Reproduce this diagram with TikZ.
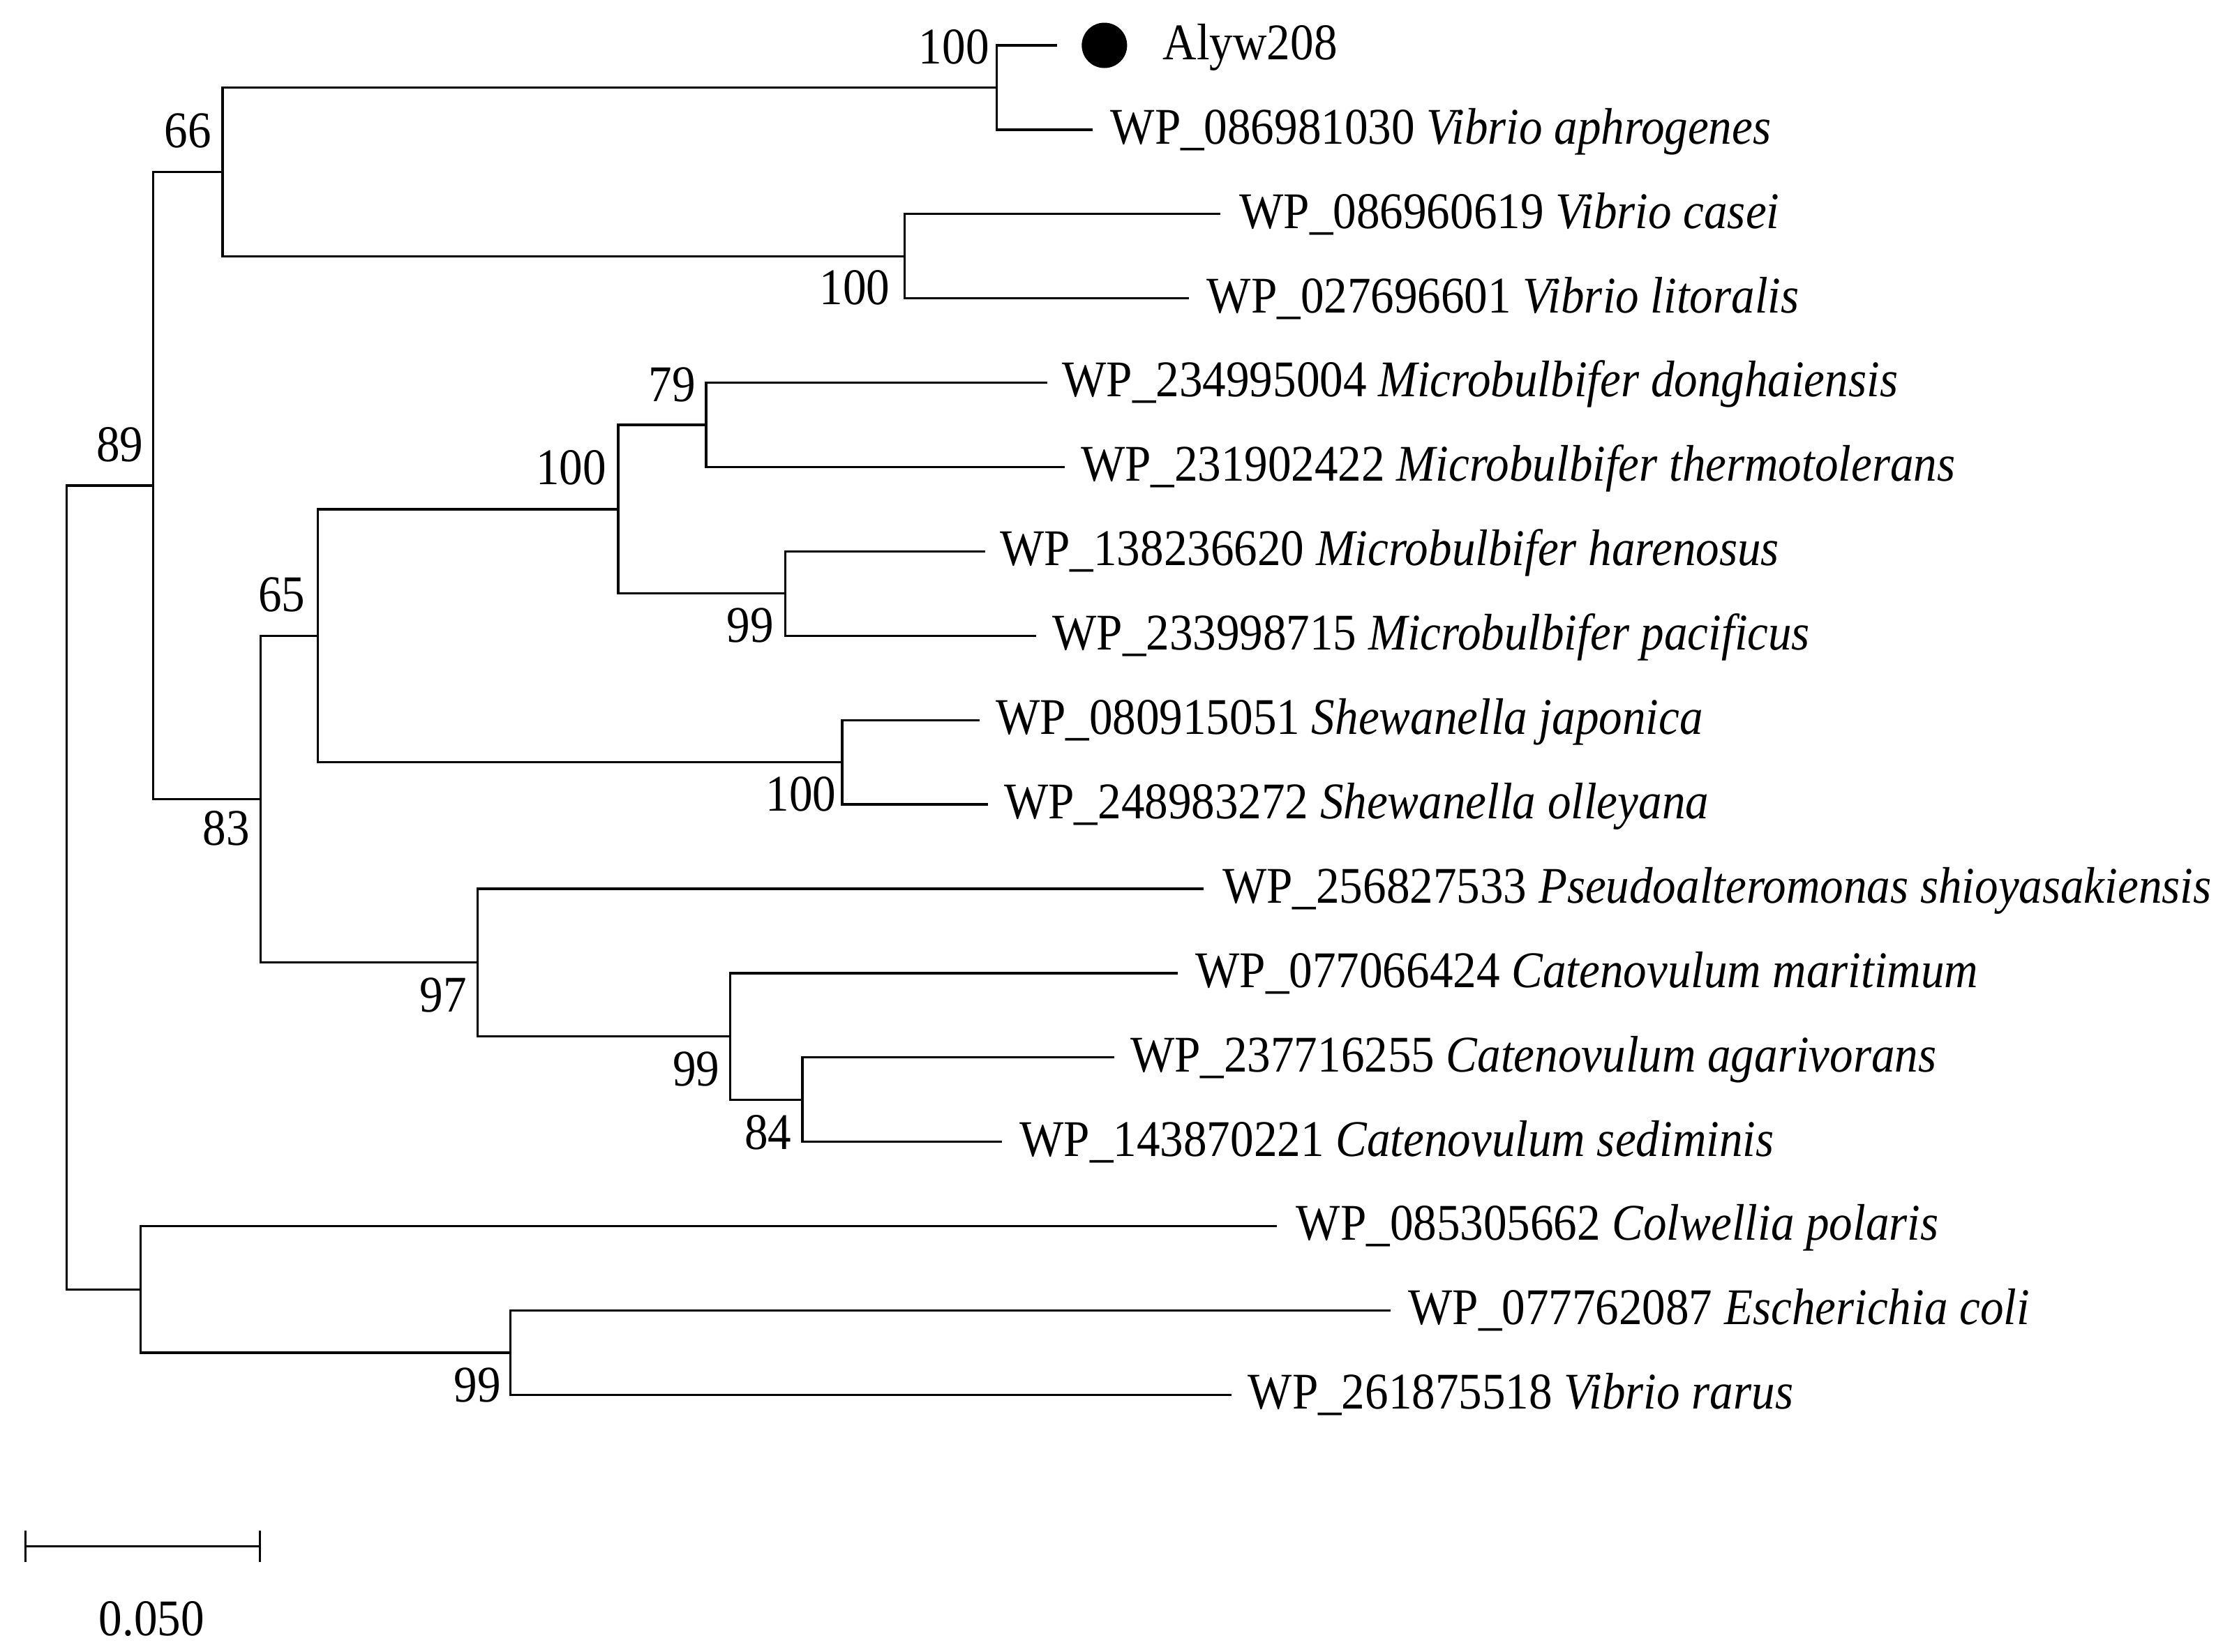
\documentclass[tikz,border=0pt]{standalone}
\usepackage{fontspec}
\setmainfont{Liberation Serif}[FakeStretch=0.91]
\usetikzlibrary{arrows.meta}
\begin{document}
\begin{tikzpicture}[x=0.02cm,y=-0.02cm,
  every node/.style={font=\fontsize{20.65pt}{24pt}\selectfont, inner sep=0pt},
  branch/.style={line width=0.9pt, line join=miter, line cap=rect},
  tiplabel/.style={anchor=base west},
  boot/.style={anchor=base east}]
\useasboundingbox (0,0) rectangle (1568,1165);
% tip ends
\coordinate (t0) at (745,32);
\coordinate (t1) at (770,91.5);
\coordinate (t2) at (860,151);
\coordinate (t3) at (838,210.5);
\coordinate (t4) at (738,270);
\coordinate (t5) at (750,329.5);
\coordinate (t6) at (694,389);
\coordinate (t7) at (730,448.5);
\coordinate (t8) at (690,508);
\coordinate (t9) at (696,567.5);
\coordinate (t10) at (848,627);
\coordinate (t11) at (830,686.5);
\coordinate (t12) at (785,746);
\coordinate (t13) at (706,805.5);
\coordinate (t14) at (900,865);
\coordinate (t15) at (980,924.5);
\coordinate (t16) at (868,984);
% internal nodes
\coordinate (nA) at (703,61.75);
\coordinate (nB) at (638,180.75);
\coordinate (nC) at (157,121.25);
\coordinate (nD) at (498,299.75);
\coordinate (nE) at (554,418.75);
\coordinate (nF) at (436,359.25);
\coordinate (nG) at (594,537.75);
\coordinate (nH) at (224,448.5);
\coordinate (nI) at (566,775.75);
\coordinate (nJ) at (515,731.1);
\coordinate (nK) at (337,679);
\coordinate (nL) at (184,563.8);
\coordinate (nM) at (108,342.5);
\coordinate (nN) at (360,954.25);
\coordinate (nO) at (99,909.6);
\coordinate (root) at (47,626);
% branches
\draw[branch] (t0) -| (nA) |- (t1);
\draw[branch] (t2) -| (nB) |- (t3);
\draw[branch] (nA) -| (nC) |- (nB);
\draw[branch] (t4) -| (nD) |- (t5);
\draw[branch] (t6) -| (nE) |- (t7);
\draw[branch] (nD) -| (nF) |- (nE);
\draw[branch] (t8) -| (nG) |- (t9);
\draw[branch] (nF) -| (nH) |- (nG);
\draw[branch] (t12) -| (nI) |- (t13);
\draw[branch] (t11) -| (nJ) |- (nI);
\draw[branch] (t10) -| (nK) |- (nJ);
\draw[branch] (nH) -| (nL) |- (nK);
\draw[branch] (nC) -| (nM) |- (nL);
\draw[branch] (t15) -| (nN) |- (t16);
\draw[branch] (t14) -| (nO) |- (nN);
\draw[branch] (nM) -| (root) |- (nO);
% marker
\node[circle, fill=black, minimum size=0.64cm] (dot) at (779,32) {};
% tip labels
\node[tiplabel] (l0) at (820,42) {Alyw208};
\node[tiplabel] (l1) at (783,101.5) {WP\_086981030 \textit{Vibrio aphrogenes}};
\node[tiplabel] (l2) at (874,161) {WP\_086960619 \textit{Vibrio casei}};
\node[tiplabel] (l3) at (851,220.5) {WP\_027696601 \textit{Vibrio litoralis}};
\node[tiplabel] (l4) at (749,280) {WP\_234995004 \textit{Microbulbifer donghaiensis}};
\node[tiplabel] (l5) at (762,339.5) {WP\_231902422 \textit{Microbulbifer thermotolerans}};
\node[tiplabel] (l6) at (705,399) {WP\_138236620 \textit{Microbulbifer harenosus}};
\node[tiplabel] (l7) at (742,458.5) {WP\_233998715 \textit{Microbulbifer pacificus}};
\node[tiplabel] (l8) at (702,518) {WP\_080915051 \textit{Shewanella japonica}};
\node[tiplabel] (l9) at (708,577.5) {WP\_248983272 \textit{Shewanella olleyana}};
\node[tiplabel] (l10) at (862,637) {WP\_256827533 \textit{Pseudoalteromonas shioyasakiensis}};
\node[tiplabel] (l11) at (843,696.5) {WP\_077066424 \textit{Catenovulum maritimum}};
\node[tiplabel] (l12) at (797,756) {WP\_237716255 \textit{Catenovulum agarivorans}};
\node[tiplabel] (l13) at (719,815.5) {WP\_143870221 \textit{Catenovulum sediminis}};
\node[tiplabel] (l14) at (914,875) {WP\_085305662 \textit{Colwellia polaris}};
\node[tiplabel] (l15) at (993,934.5) {WP\_077762087 \textit{Escherichia coli}};
\node[tiplabel] (l16) at (880,994) {WP\_261875518 \textit{Vibrio rarus}};
% bootstrap values
\node[boot] (bA) at (698,45) {100};
\node[boot] (bB) at (628,215) {100};
\node[boot] (bC) at (149.5,104) {66};
\node[boot] (bM) at (101.5,325.5) {89};
\node[boot] (bL) at (176.5,596) {83};
\node[boot] (bH) at (215.5,431.5) {65};
\node[boot] (bF) at (428,342) {100};
\node[boot] (bD) at (491,283) {79};
\node[boot] (bE) at (546,453) {99};
\node[boot] (bG) at (590,572) {100};
\node[boot] (bK) at (329.5,714) {97};
\node[boot] (bJ) at (508,766) {99};
\node[boot] (bI) at (558.5,811) {84};
\node[boot] (bN) at (353.5,989) {99};
% scale bar
\coordinate (sbL) at (17,1091);
\coordinate (sbR) at (184,1091);
\draw[line width=0.9pt, {Bar[width=0.44cm,line width=0.9pt]}-{Bar[width=0.44cm,line width=0.9pt]}] (sbL) -- (sbR);
\node[anchor=base] (sblabel) at (107,1154) {0.050};
\end{tikzpicture}
\end{document}
